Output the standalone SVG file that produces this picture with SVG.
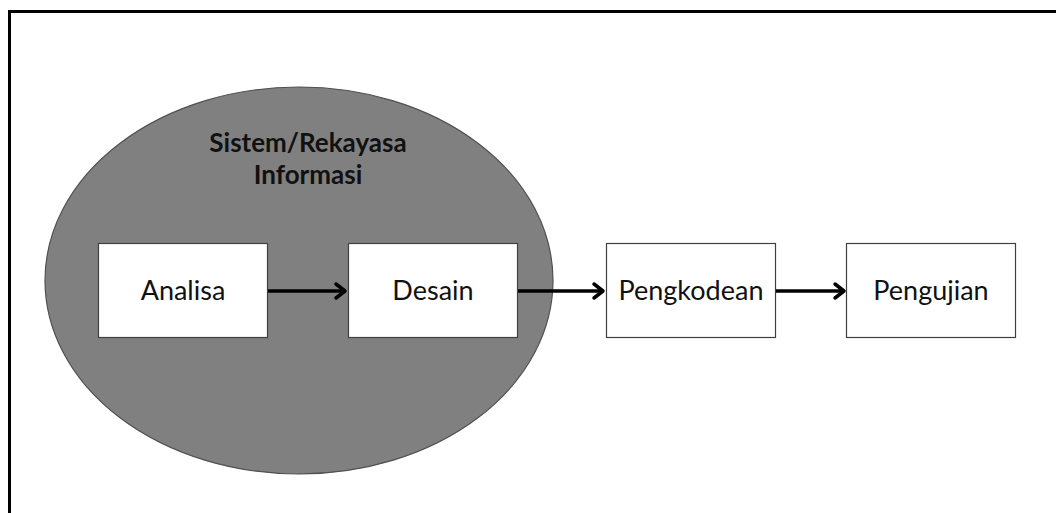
<svg xmlns="http://www.w3.org/2000/svg" width="1056" height="513" viewBox="0 0 1056 513">
<defs>
<style>
.box{fill:#fff;stroke:#404040;stroke-width:1.2}
.lbl{font-family:Lato,"Liberation Sans",sans-serif;font-size:27px;fill:#111;text-anchor:middle}
.ttl{font-family:Lato,"Liberation Sans",sans-serif;font-size:26px;font-weight:bold;fill:#111;text-anchor:middle}
.conn{stroke:#000;stroke-width:3.5;fill:none}
.head{stroke:#000;stroke-width:3.5;fill:none;stroke-linecap:round;stroke-linejoin:round}
</style>
</defs>
<rect width="1056" height="513" fill="#fff"/>
<path d="M9.5 513 V11.5 H1056" fill="none" stroke="#000" stroke-width="3"/>
<g id="sistem">
<ellipse cx="299" cy="280.5" rx="254" ry="193.5" fill="#808080" stroke="#505050" stroke-width="1.2"/>
<text class="ttl" x="308" y="152">Sistem/Rekayasa</text>
<text class="ttl" x="308" y="184">Informasi</text>
</g>
<g id="analisa">
<rect class="box" x="98.5" y="243.5" width="169" height="94"/>
<text class="lbl" x="183" y="300">Analisa</text>
</g>
<g id="desain">
<rect class="box" x="348.5" y="243.5" width="169" height="94"/>
<text class="lbl" x="433" y="300">Desain</text>
</g>
<g id="pengkodean">
<rect class="box" x="606.5" y="243.5" width="169" height="94"/>
<text class="lbl" x="691" y="300">Pengkodean</text>
</g>
<g id="pengujian">
<rect class="box" x="846.5" y="243.5" width="169" height="94"/>
<text class="lbl" x="931" y="300">Pengujian</text>
</g>
<g id="connectors">
<path class="conn" d="M268 291 H345"/>
<path class="head" d="M336 284 L345 291 L336 298"/>
<path class="conn" d="M518 291 H603"/>
<path class="head" d="M594 284 L603 291 L594 298"/>
<path class="conn" d="M776 291 H844"/>
<path class="head" d="M835 284 L844 291 L835 298"/>
</g>
</svg>
